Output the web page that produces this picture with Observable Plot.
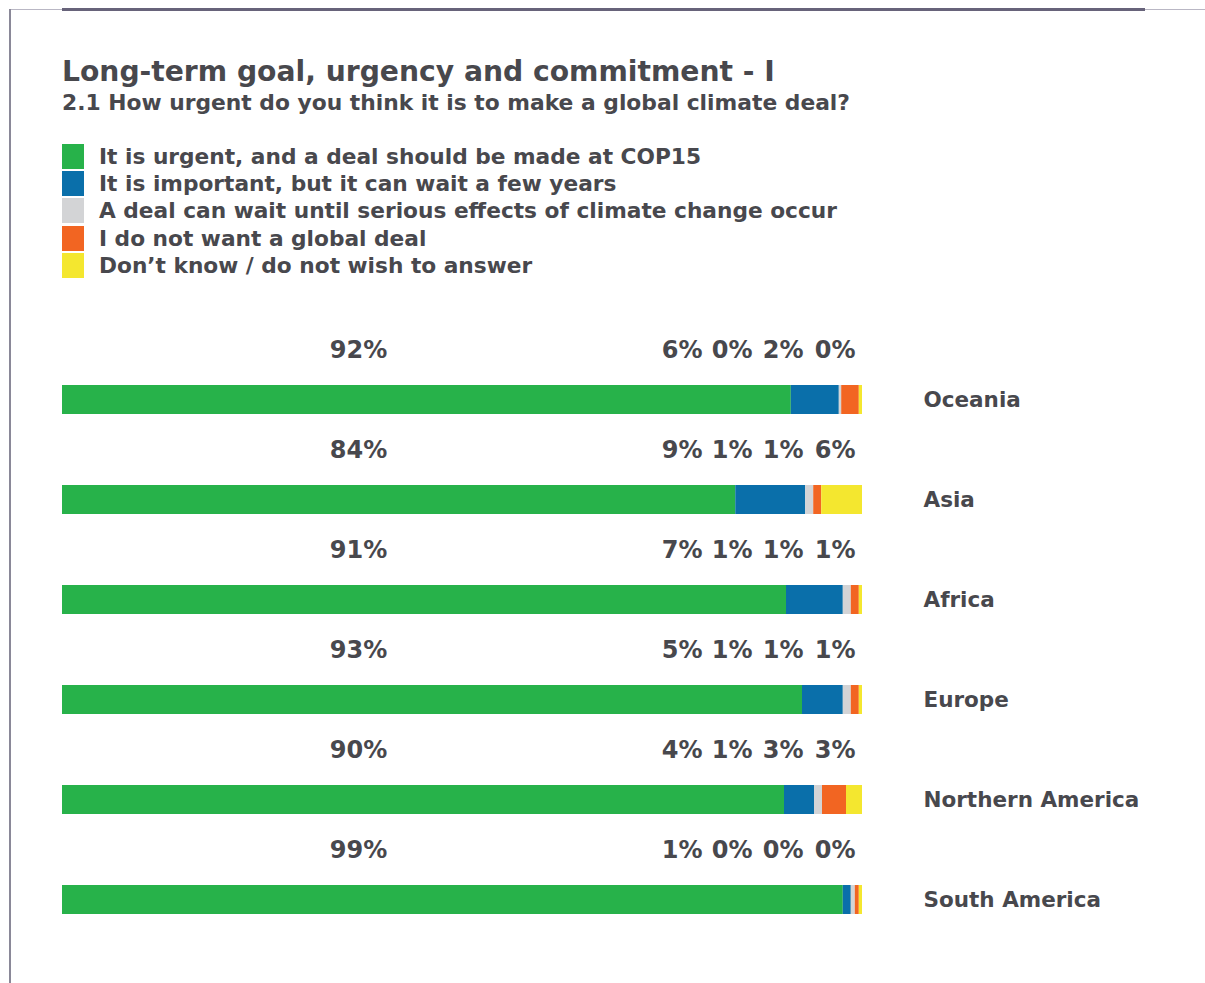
<!DOCTYPE html>
<html>
<head>
<meta charset="utf-8">
<script src="https://cdn.jsdelivr.net/npm/d3@7"></script>
<script src="https://cdn.jsdelivr.net/npm/@observablehq/plot@0.6"></script>
<style>
  html, body { margin: 0; padding: 0; background: #fff; }
  #page { position: relative; width: 1205px; height: 983px; overflow: hidden;
          font-family: "DejaVu Sans", Verdana, sans-serif; font-weight: bold; color: #48484d; }
  .line { position: absolute; }
  #title { position: absolute; left: 62px; top: 58px; font-size: 28.2px; line-height: 28px; white-space: nowrap; }
  #subtitle { position: absolute; left: 62px; top: 92px; font-size: 21.8px; line-height: 22px; white-space: nowrap; }
  #legend { position: absolute; left: 62px; top: 142.5px; }
  .lrow { display: flex; align-items: center; height: 27.3px; font-size: 21.7px; white-space: nowrap; }
  .sw { width: 22px; height: 25px; margin-right: 15px; }
  #chart { position: absolute; left: 0; top: 300px; }
</style>
</head>
<body>
<div id="page">
  <div class="line" style="left:10px;top:9px;width:52px;height:1px;background:#b9b7c4"></div>
  <div class="line" style="left:62px;top:8px;width:1083px;height:3px;background:#67637a"></div>
  <div class="line" style="left:1145px;top:9px;width:60px;height:1px;background:#b9b7c4"></div>
  <div class="line" style="left:9px;top:9px;width:2px;height:974px;background:#8a8898"></div>
  <div id="title"></div>
  <div id="subtitle"></div>
  <div id="legend"></div>
  <div id="chart"></div>
</div>
<script>
const titleText = "Long-term goal, urgency and commitment - I";
const subtitleText = "2.1 How urgent do you think it is to make a global climate deal?";

const regions = ["Oceania", "Asia", "Africa", "Europe", "Northern America", "South America"];
const seriesNames = [
  "It is urgent, and a deal should be made at COP15",
  "It is important, but it can wait a few years",
  "A deal can wait until serious effects of climate change occur",
  "I do not want a global deal",
  "Don\u2019t know / do not wish to answer"
];
const seriesColors = ["#27b24a", "#0a6faa", "#d3d4d6", "#f26522", "#f4e72f"];

// Bar segment shares (%) per region
const urgent    = [91.1, 84.2, 90.5, 92.5, 90.25, 97.5];
const important = [6.0, 8.75, 7.1, 5.1, 3.75, 1.0];
const canWait   = [0.3, 1.0, 1.0, 1.0, 1.0, 0.5];
const noDeal    = [2.2, 1.0, 1.0, 1.0, 3.0, 0.5];
const dontKnow  = [0.4, 5.1, 0.4, 0.4, 2.0, 0.4];
const columns = [urgent, important, canWait, noDeal, dontKnow];

// Percentages as printed above each bar
const urgentLabels    = ["92%", "84%", "91%", "93%", "90%", "99%"];
const importantLabels = ["6%", "9%", "7%", "5%", "4%", "1%"];
const canWaitLabels   = ["0%", "1%", "1%", "1%", "1%", "0%"];
const noDealLabels    = ["2%", "1%", "1%", "1%", "3%", "0%"];
const dontKnowLabels  = ["0%", "6%", "1%", "1%", "3%", "0%"];
const smallLabels = [importantLabels, canWaitLabels, noDealLabels, dontKnowLabels];

document.getElementById("title").textContent = titleText;
document.getElementById("subtitle").textContent = subtitleText;
const legend = document.getElementById("legend");
seriesNames.forEach((s, j) => {
  const row = document.createElement("div");
  row.className = "lrow";
  const sw = document.createElement("div");
  sw.className = "sw";
  sw.style.background = seriesColors[j];
  const t = document.createElement("span");
  t.textContent = s;
  row.appendChild(sw); row.appendChild(t);
  legend.appendChild(row);
});

const table = regions.flatMap((r, i) => seriesNames.map((s, j) => ({region: r, series: s, value: columns[j][i]})));

const textColor = "#48484d";
const fontFamily = "'DejaVu Sans', Verdana, sans-serif";
const labelSize = 24;
const slotDx = [-160, -110, -59, -7];

const smallLabelMarks = smallLabels.map((labels, k) =>
  Plot.text(regions, {
    y: d => d,
    text: (d, i) => labels[i],
    frameAnchor: "right",
    textAnchor: "end",
    dx: slotDx[k],
    dy: -50,
    fontSize: labelSize,
    fontWeight: "bold",
    fill: textColor
  })
);

const chart = Plot.plot({
  width: 1205,
  height: 683,
  marginLeft: 62,
  marginRight: 343,
  marginTop: 84.5,
  marginBottom: 69.5,
  x: {domain: [0, 1], axis: null},
  y: {domain: regions, paddingInner: 0.71, paddingOuter: 0, axis: null},
  color: {domain: seriesNames, range: seriesColors},
  style: {fontFamily, fontWeight: "bold", color: textColor, background: "transparent", overflow: "visible"},
  marks: [
    Plot.barX(table, Plot.stackX({x: "value", y: "region", fill: "series", offset: "normalize", order: null})),
    Plot.axisY({anchor: "right", tickSize: 0, tickPadding: 61, label: null, fontSize: 21.5, fontWeight: "bold", fill: textColor}),
    Plot.text(regions, {
      y: d => d,
      text: (d, i) => urgentLabels[i],
      frameAnchor: "left",
      textAnchor: "middle",
      dx: 296,
      dy: -50,
      fontSize: labelSize,
      fontWeight: "bold",
      fill: textColor
    }),
    ...smallLabelMarks
  ]
});
document.getElementById("chart").appendChild(chart);
</script>
</body>
</html>
